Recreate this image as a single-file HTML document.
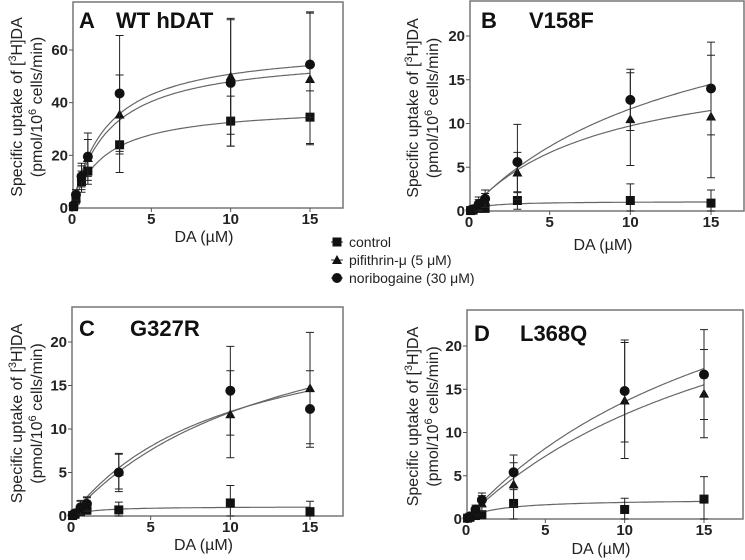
<!DOCTYPE html>
<html><head><meta charset="utf-8"><style>
body{margin:0;background:#fff}
svg{display:block;font-family:"Liberation Sans",sans-serif}
</style></head><body>
<svg id="c" width="745" height="560"></svg>
<script>
const xs=[0.1,0.25,0.6,1,3,10,15];
const seriesNames=["control","pifithrin-μ (5 μM)","noribogaine (30 μM)"];
const aCtrl=[0.5,3.5,10,14,24,33,34.5], aCtrlE=[1,2,4,5,10.5,9.5,10];
const aPif=[1,4,12,19,35.5,50,49], aPifE=[1,2,5,7,15,22,25];
const aNor=[1,5,12,19.5,43.5,47.5,54.5], aNorE=[1,2,4,9,22,24,20];
const bCtrl=[0.05,0.1,0.3,0.3,1.2,1.2,0.9], bCtrlE=[0.1,0.2,0.5,0.8,1,1.9,1.5];
const bPif=[0.1,0.2,0.7,1.2,4.4,10.5,10.8], bPifE=[0.1,0.3,0.6,0.8,2.3,5.3,7];
const bNor=[0.1,0.2,0.8,1.4,5.6,12.7,14], bNorE=[0.1,0.3,0.8,1,4.3,3.5,5.3];
const cCtrl=[0.05,0.2,0.5,0.7,0.7,1.5,0.5], cCtrlE=[0.1,0.2,0.4,0.5,0.9,2,1.2];
const cPif=[0.1,0.3,0.9,1.3,5.1,11.7,14.7], cPifE=[0.1,0.3,0.8,0.8,2,5,6.4];
const cNor=[0.1,0.3,1,1.4,5,14.4,12.3], cNorE=[0.1,0.3,0.8,0.8,2.2,5.1,4.4];
const dCtrl=[0.1,0.2,0.4,0.5,1.8,1.1,2.3], dCtrlE=[0.1,0.2,0.3,0.4,1.8,1.3,2.6];
const dPif=[0.1,0.3,0.9,1.8,4.0,13.7,14.5], dPifE=[0.1,0.3,0.5,0.9,2.5,6.7,5.1];
const dNor=[0.1,0.3,1.1,2.2,5.4,14.8,16.7], dNorE=[0.1,0.3,0.5,0.8,2,5.9,5.2];
// Michaelis-Menten fits [Vmax, Km] for control, pifithrin, noribogaine
const aFit=[[39,2],[59,2.3],[62,2.2]];
const bFit=[[1.1,1],[18,8.5],[28,14]];
const cFit=[[1.1,1.2],[28,13.5],[24,10]];
const dFit=[[2.3,2],[36,19.8],[40,19.5]];
const xTicks=[0,5,10,15];
const aYTicks=[0,20,40,60], yTicks=[0,5,10,15,20];

const svg=document.getElementById('c');
const NS='http://www.w3.org/2000/svg';
function mk(tag,at,parent,txt){const e=document.createElementNS(NS,tag);for(const k in at)e.setAttribute(k,at[k]);if(txt!==undefined)e.textContent=txt;(parent||svg).appendChild(e);return e;}

function marker(g,kind,x,y){
  let e;
  if(kind===0){e=mk('rect',{x:x-4.5,y:y-4.5,width:9,height:9,fill:'#111'},g);}
  else if(kind===1){e=mk('polygon',{points:`${x},${y-5} ${x+5},${y+4} ${x-5},${y+4}`,fill:'#111'},g);}
  else {e=mk('circle',{cx:x,cy:y,r:5,fill:'#111'},g);}
  return e;
}

function panel(o){
  const g=mk('g',{});
  
  
  const X=v=>o.x0+(o.x15-o.x0)*v/15;
  const Y=v=>o.y0-(o.y0-o.yRef)*v/o.ref;
  const fr=mk('rect',{x:o.fl,y:o.ft,width:o.fr-o.fl,height:o.y0-o.ft,fill:'none',stroke:'#777','stroke-width':1.5},g);
  
  xTicks.forEach(t=>{
    mk('line',{x1:X(t),x2:X(t),y1:o.y0,y2:o.y0+4,stroke:'#555'},g);
    const tl=mk('text',{x:X(t),y:o.y0+16,'text-anchor':'middle','font-size':15,'font-weight':'bold',fill:'#222'},g,t);
    
  });
  o.yt.forEach(t=>{
    mk('line',{x1:o.fl-4,x2:o.fl,y1:Y(t),y2:Y(t),stroke:'#555'},g);
    const tl=mk('text',{x:o.fl-5,y:Y(t)+5,'text-anchor':'end','font-size':15,'font-weight':'bold',fill:'#222'},g,t);
    
  });
  const xt=mk('text',{x:(o.fl+o.fr)/2-4,y:o.xtY,'text-anchor':'middle','font-size':16,fill:'#222'},g,'DA (µM)');
  
  const cy=(o.ft+o.y0)/2+2;
  const yt=mk('text',{transform:`translate(${o.ytX},${cy}) rotate(-90)`,'text-anchor':'middle','font-size':16,fill:'#222'},g);
  
  mk('tspan',{x:0,y:0},yt,'Specific uptake of [');
  mk('tspan',{'baseline-shift':'super','font-size':11},yt,'3');
  mk('tspan',{},yt,'H]DA');
  mk('tspan',{x:0,y:20},yt,'(pmol/10');
  mk('tspan',{'baseline-shift':'super','font-size':11},yt,'6');
  mk('tspan',{},yt,' cells/min)');
  const t1=mk('text',{x:o.l1x,y:o.ly,'font-size':22,'font-weight':'bold',fill:'#111'},g,o.l1);
  
  const t2=mk('text',{x:o.l2x,y:o.ly,'font-size':22,'font-weight':'bold',fill:'#111'},g,o.l2);
  
  o.series.forEach((s,k)=>{
    const [V,K]=o.fits[k];
    let d='';
    for(let i=0;i<=150;i++){const v=i/10;d+=(i?'L':'M')+X(v).toFixed(1)+','+Y(V*v/(K+v)).toFixed(1);}
    const c=mk('path',{d,fill:'none',stroke:'#666','stroke-width':1.2},g);
    
    
  });
  o.series.forEach((s,k)=>{
    const [vals,errs]=s;
    vals.forEach((v,i)=>{
      const x=X(xs[i]),top=Y(v+errs[i]),bot=Y(Math.max(0,v-errs[i]));
      const eb=mk('path',{d:`M${x},${top}V${bot}M${x-4},${top}H${x+4}M${x-4},${bot}H${x+4}`,stroke:'#222','stroke-width':1},g);
      
      const m=marker(g,k,x,Y(v));
      
      
    });
  });
}
panel({name:'panel-a-wt-hdat',fl:73,fr:343,ft:2,x0:72,x15:310,y0:208,yRef:50,ref:60,yt:aYTicks,xtY:242,ytX:22,l1:'A',l2:'WT hDAT',l1x:79,l2x:116,ly:28,fits:aFit,series:[[aCtrl,aCtrlE],[aPif,aPifE],[aNor,aNorE]]});
panel({name:'panel-b-v158f',fl:470,fr:744,ft:1,x0:469,x15:711,y0:211,yRef:36,ref:20,yt:yTicks,xtY:250,ytX:418,l1:'B',l2:'V158F',l1x:481,l2x:529,ly:28,fits:bFit,series:[[bCtrl,bCtrlE],[bPif,bPifE],[bNor,bNorE]]});
panel({name:'panel-c-g327r',fl:72,fr:343,ft:307,x0:71,x15:310,y0:516,yRef:342,ref:20,yt:yTicks,xtY:550,ytX:22,l1:'C',l2:'G327R',l1x:79,l2x:130,ly:336,fits:cFit,series:[[cCtrl,cCtrlE],[cPif,cPifE],[cNor,cNorE]]});
panel({name:'panel-d-l368q',fl:467,fr:743,ft:310,x0:466,x15:704,y0:519,yRef:346,ref:20,yt:yTicks,xtY:554,ytX:418,l1:'D',l2:'L368Q',l1x:474,l2x:520,ly:341,fits:dFit,series:[[dCtrl,dCtrlE],[dPif,dPifE],[dNor,dNorE]]});

const lg=mk('g',{});


seriesNames.forEach((n,k)=>{
  const y=242+k*18;
  mk('line',{x1:331,x2:343,y1:y,y2:y,stroke:'#333'},lg);
  const m=marker(lg,k,337,y);
  
  
  const t=mk('text',{x:349,y:y+5,'font-size':14,fill:'#222'},lg,n);
  
  
});
</script>
</body></html>
